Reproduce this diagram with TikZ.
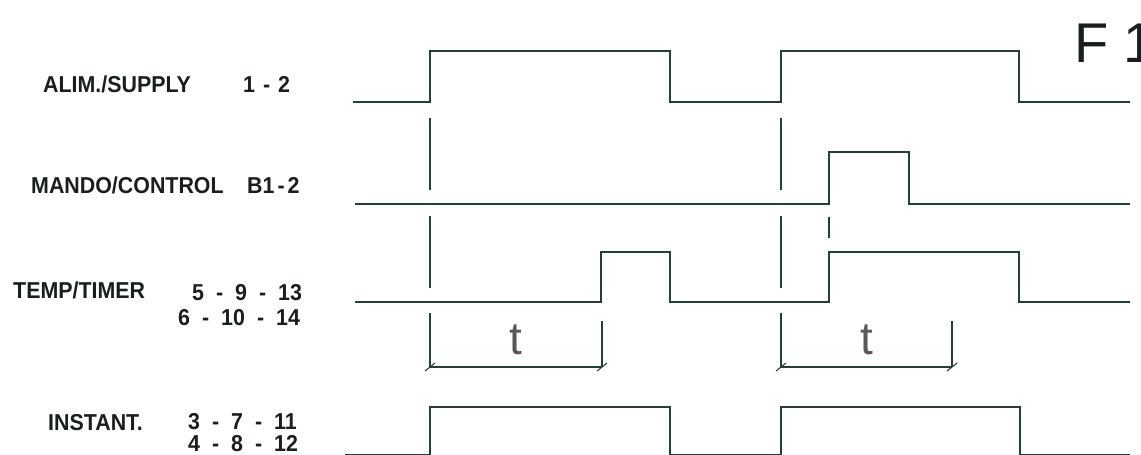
\documentclass[tikz,border=0pt]{standalone}
\usepackage{fontspec}
\setmainfont{Liberation Sans}
\newfontfamily\lblfont[FakeStretch=0.93]{Liberation Sans}
\definecolor{sigc}{RGB}{38,62,58}
\definecolor{txtc}{RGB}{25,30,30}
\newcommand\gp[1]{\hspace{#1pt}}
\begin{document}
\begin{tikzpicture}[x=1pt,y=-1pt,
  sig/.style={line width=1.6pt, draw=sigc, line join=miter},
  guide/.style={line width=1.5pt, draw=sigc},
  dim/.style={line width=1.1pt, draw=sigc},
  lbl/.style={anchor=base west, inner sep=0pt, font=\lblfont\bfseries\fontsize{23}{23}\selectfont, text=txtc},
  tlbl/.style={inner sep=0pt, font=\fontsize{46}{46}\selectfont, text=black!65},
  big/.style={anchor=base west, inner sep=0pt, font=\fontsize{56}{56}\selectfont, text=txtc}]
\useasboundingbox (0,0) rectangle (1141,455);
\clip (0,0) rectangle (1141,455);
% labels
\node[lbl] (lsup) at (43,92) {ALIM./SUPPLY};
\node[lbl] (nsup) at (243,92) {1\gp{8}-\gp{8}2};
\node[lbl] (lctl) at (31,193) {MANDO/CONTROL};
\node[lbl] (nctl) at (247,193) {B1\gp{3}-\gp{3}2};
\node[lbl] (ltim) at (13,298) {TEMP/TIMER};
\node[lbl] (ntim1) at (192,300) {5\gp{12}-\gp{12}9\gp{12}-\gp{12}13};
\node[lbl] (ntim2) at (178,325) {6\gp{12}-\gp{12}10\gp{12}-\gp{12}14};
\node[lbl] (lins) at (48,430) {INSTANT.};
\node[lbl] (nins1) at (188,429) {3\gp{12}-\gp{12}7\gp{12}-\gp{12}11};
\node[lbl] (nins2) at (188,451) {4\gp{12}-\gp{12}8\gp{12}-\gp{12}12};
\node[big] (f1) at (1074,62) {F 1};
% signals
\draw[sig] (353,102) -- (430,102) -- (430,51) -- (670,51) -- (670,102) -- (781,102) -- (781,51) -- (1019,51) -- (1019,102) -- (1130,102);
\draw[sig] (355,204) -- (829,204) -- (829,152) -- (909,152) -- (909,204) -- (1130,204);
\draw[sig] (355,302) -- (601,302) -- (601,252) -- (670,252) -- (670,302) -- (829,302) -- (829,252) -- (1019,252) -- (1019,302) -- (1130,302);
\draw[sig] (345,455) -- (430,455) -- (430,407) -- (670,407) -- (670,455) -- (781,455) -- (781,407) -- (1020,407) -- (1020,455) -- (1130,455);
% guides
\foreach \x in {430,781}{
  \draw[guide] (\x,118) -- (\x,190);
  \draw[guide] (\x,216) -- (\x,288);
  \draw[guide] (\x,313) -- (\x,367);
}
\draw[guide] (829,217) -- (829,238);
% dimensions
\coordinate (d1a) at (430,367); \coordinate (d1b) at (602,367);
\coordinate (d2a) at (781,367); \coordinate (d2b) at (952,367);
\draw[dim] (d1a) -- (d1b);
\draw[dim] (d2a) -- (d2b);
\draw[dim] (602,321) -- (d1b);
\draw[dim] (952,321) -- (d2b);
\foreach \p in {d1a,d1b,d2a,d2b}{
  \draw[dim] ([shift={(-5,4)}]\p) -- ([shift={(5,-4)}]\p);
}
\node[tlbl] (t1) at (516,340) {t};
\node[tlbl] (t2) at (867,340) {t};
\end{tikzpicture}
\end{document}
